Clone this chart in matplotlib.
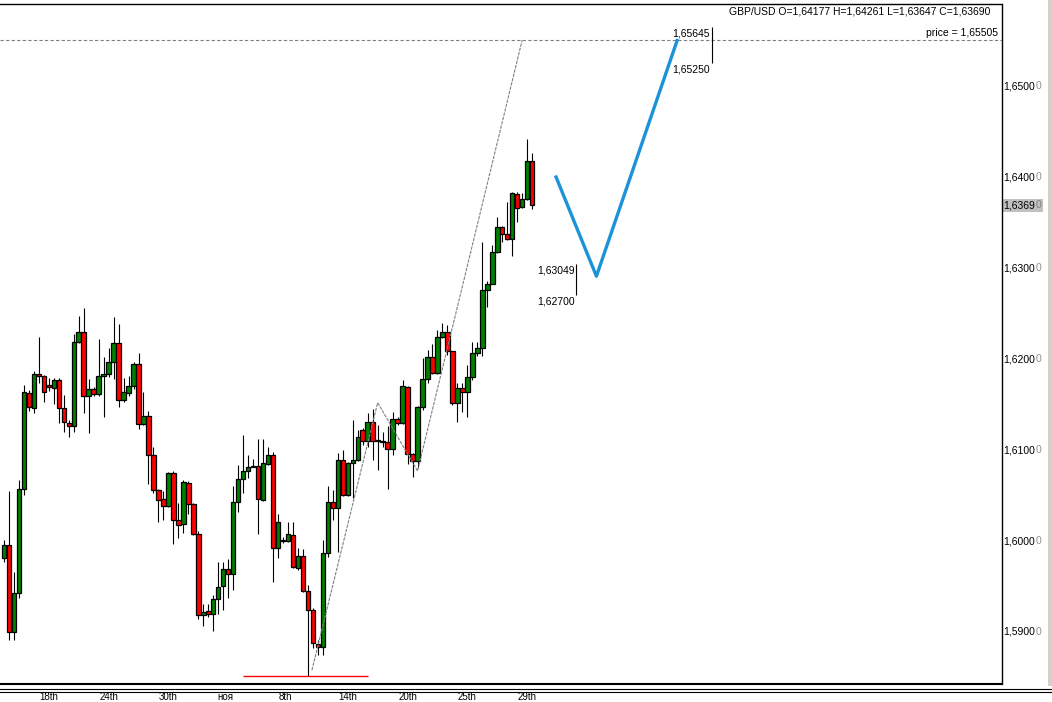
import numpy as np
import matplotlib
matplotlib.use("Agg")
import matplotlib.pyplot as plt
from matplotlib.patches import Rectangle
from matplotlib.lines import Line2D
import matplotlib.transforms as mtransforms

plt.rcParams['font.family'] = ['Liberation Sans', 'DejaVu Sans']

# GBP/USD bars (oldest first)
opens = [1.59813, 1.59956, 1.59000, 1.59429, 1.60571, 1.61626, 1.61462, 1.61835, 1.61813, 1.61714,
         1.61681, 1.61769, 1.61462, 1.61297, 1.61264, 1.62187, 1.62297, 1.61593, 1.61670, 1.61615,
         1.61813, 1.61835, 1.61967, 1.62176, 1.61549, 1.61626, 1.61703, 1.61945, 1.61286, 1.61374,
         1.60945, 1.60560, 1.60462, 1.60385, 1.60747, 1.60231, 1.60187, 1.60637, 1.60407, 1.60077,
         1.59187, 1.59231, 1.59198, 1.59363, 1.59505, 1.59692, 1.59637, 1.60429, 1.60681, 1.60769,
         1.60824, 1.60824, 1.60451, 1.60846, 1.60945, 1.59923, 1.60011, 1.60000, 1.60066, 1.59703,
         1.59835, 1.59451, 1.59242, 1.58868, 1.58835, 1.59868, 1.60429, 1.60363, 1.60890, 1.60506,
         1.60857, 1.60890, 1.61220, 1.61099, 1.61308, 1.61110, 1.61099, 1.61088, 1.61011, 1.61341,
         1.61297, 1.61692, 1.60956, 1.60879, 1.61473, 1.61780, 1.62022, 1.61846, 1.62242, 1.62297,
         1.62088, 1.61516, 1.61681, 1.61637, 1.61802, 1.62066, 1.62121, 1.62758, 1.62824, 1.63176,
         1.63451, 1.63374, 1.63319, 1.63813, 1.63670, 1.63758, 1.64177]
highs = [1.60011, 1.60549, 1.59659, 1.60670, 1.61714, 1.61659, 1.61868, 1.62242, 1.61824, 1.61791,
         1.61791, 1.61791, 1.61604, 1.61330, 1.62275, 1.62473, 1.62560, 1.61780, 1.61692, 1.62220,
         1.62022, 1.62121, 1.62462, 1.62385, 1.61791, 1.61813, 1.61967, 1.62066, 1.61637, 1.61429,
         1.61033, 1.60571, 1.60549, 1.60758, 1.60769, 1.60418, 1.60670, 1.60659, 1.60418, 1.60110,
         1.59308, 1.59308, 1.59407, 1.59769, 1.59769, 1.59802, 1.60604, 1.60835, 1.61165, 1.60945,
         1.60901, 1.61121, 1.61121, 1.61033, 1.60978, 1.60297, 1.60044, 1.60209, 1.60209, 1.59923,
         1.59912, 1.59516, 1.59264, 1.58912, 1.60011, 1.60604, 1.60560, 1.60967, 1.61000, 1.60868,
         1.61330, 1.61220, 1.61242, 1.61407, 1.61451, 1.61275, 1.61198, 1.61264, 1.61418, 1.61363,
         1.61769, 1.61703, 1.60967, 1.61484, 1.62011, 1.62099, 1.62165, 1.62319, 1.62396, 1.62374,
         1.62088, 1.61736, 1.61736, 1.61934, 1.62187, 1.62187, 1.63286, 1.62857, 1.63253, 1.63560,
         1.63462, 1.63725, 1.63835, 1.63835, 1.63824, 1.64418, 1.64261]
lows = [1.59769, 1.58912, 1.58912, 1.59374, 1.60506, 1.61429, 1.61407, 1.61736, 1.61527, 1.61648,
        1.61505, 1.61297, 1.61198, 1.61143, 1.61198, 1.62176, 1.61407, 1.61187, 1.61593, 1.61593,
        1.61363, 1.61802, 1.61780, 1.61473, 1.61527, 1.61593, 1.61670, 1.61231, 1.61275, 1.60626,
        1.60527, 1.60209, 1.60231, 1.60374, 1.59967, 1.60033, 1.60088, 1.60297, 1.60066, 1.59143,
        1.59066, 1.59165, 1.59011, 1.59198, 1.59242, 1.59374, 1.59462, 1.60319, 1.60527, 1.60692,
        1.60808, 1.60077, 1.60440, 1.60835, 1.59549, 1.59813, 1.59978, 1.59989, 1.59703, 1.59681,
        1.59440, 1.58516, 1.58824, 1.58747, 1.58747, 1.59824, 1.60231, 1.59879, 1.60495, 1.60495,
        1.60473, 1.60879, 1.61055, 1.61033, 1.60890, 1.60780, 1.61033, 1.60571, 1.60945, 1.61275,
        1.61286, 1.60846, 1.60703, 1.60802, 1.61440, 1.61736, 1.61835, 1.61835, 1.62231, 1.62044,
        1.61495, 1.61308, 1.61418, 1.61363, 1.61769, 1.62033, 1.62033, 1.62571, 1.62956, 1.63165,
        1.63286, 1.63308, 1.63132, 1.63505, 1.63659, 1.63747, 1.63647]
closes = [1.59956, 1.59000, 1.59429, 1.60571, 1.61637, 1.61473, 1.61835, 1.61813, 1.61637, 1.61692,
          1.61769, 1.61462, 1.61308, 1.61264, 1.62187, 1.62297, 1.61593, 1.61670, 1.61615, 1.61813,
          1.61835, 1.61967, 1.62176, 1.61549, 1.61637, 1.61703, 1.61945, 1.61286, 1.61374, 1.60945,
          1.60560, 1.60451, 1.60385, 1.60747, 1.60231, 1.60176, 1.60648, 1.60407, 1.60077, 1.59187,
          1.59220, 1.59198, 1.59363, 1.59495, 1.59692, 1.59637, 1.60429, 1.60681, 1.60769, 1.60813,
          1.60813, 1.60462, 1.60857, 1.60945, 1.59923, 1.60209, 1.60000, 1.60077, 1.59714, 1.59835,
          1.59451, 1.59242, 1.58879, 1.58835, 1.59868, 1.60429, 1.60363, 1.60890, 1.60506, 1.60857,
          1.60890, 1.61143, 1.61099, 1.61308, 1.61099, 1.61099, 1.61088, 1.61011, 1.61341, 1.61297,
          1.61703, 1.60956, 1.60879, 1.61473, 1.61780, 1.62022, 1.61846, 1.62242, 1.62297, 1.62088,
          1.61516, 1.61681, 1.61637, 1.61802, 1.62066, 1.62121, 1.62758, 1.62824, 1.63176, 1.63451,
          1.63374, 1.63319, 1.63824, 1.63659, 1.63758, 1.64176, 1.63690]

date_ticks = [9, 21, 33, 44.5, 56.5, 69, 81, 93, 105]
date_labels = ["18th", "24th", "30th", "ноя", "8th", "14th", "20th", "25th", "29th"]
price_ticks = [1.59, 1.60, 1.61, 1.62, 1.63, 1.64, 1.65]

# zigzag (bar index, price)
zz_x = [61.8, 75.0, 83.0, 104.0]
zz_y = [1.5858, 1.6152, 1.6077, 1.65505]
# hand drawn forecast
fc_x = [110.8, 118.9, 135.1]
fc_y = [1.6400, 1.6291, 1.6550]
support = 1.58516
support_x = (48, 73)
target_price = 1.65505
levels_low = (114.9, 1.63049, 1.62700)
levels_high = (142.0, 1.65645, 1.65250)
last_price = 1.63690

W, H = 1052, 702
fig = plt.figure(figsize=(W / 100, H / 100), dpi=100)
ax = fig.add_axes([0, (H - 683.5) / H, 1001.5 / W, (683.5 - 3.5) / H])
ax.set_xlim(-0.8, 200.2)
ax.set_ylim(1.58434, 1.65907)

o, h, l, c = map(np.array, (opens, highs, lows, closes))
idx = np.arange(len(o))
up = c >= o
ax.vlines(idx, l, h, color='black', lw=0.8, zorder=2)
ax.bar(idx, np.maximum(np.abs(c - o), 0.00003), bottom=np.minimum(o, c), width=0.9,
       color=np.where(up, '#008000', '#FF0000'), edgecolor='black', linewidth=0.9, zorder=3)

ax.axhline(target_price, color='#808080', lw=0.8, ls=(0, (3, 2)), zorder=1)
ax.plot(zz_x, zz_y, color='#808080', lw=0.8, ls=(0, (3, 1)), zorder=4)
ax.hlines(support, *support_x, color='red', lw=1.0, zorder=4)
ax.plot(fc_x, fc_y, color='#1C92D8', lw=2.4, zorder=5)

for xm, p1, p2 in (levels_low, levels_high):
    ax.vlines(xm, p2, p1, color='black', lw=0.8)
    for p in (p1, p2):
        ax.annotate(f"{p:.5f}".replace('.', ','), xy=(xm, p), xytext=(-1.5, -6.5),
                    textcoords='offset pixels', ha='right', va='center', fontsize=7.5)

# price scale on the right
for p in price_ticks:
    ax.annotate(f"{p:.4f}".replace('.', ','), xy=(1, p), xycoords=('axes fraction', 'data'),
                xytext=(2, 0), textcoords='offset pixels', ha='left', va='center', fontsize=7.5)
    ax.annotate("0", xy=(1, p), xycoords=('axes fraction', 'data'),
                xytext=(34, 0), textcoords='offset pixels', ha='left', va='center',
                fontsize=7.5, color='#909090')

tr = mtransforms.blended_transform_factory(fig.transFigure, ax.transData)
ax.add_patch(Rectangle((1002 / W, last_price - 0.00072), 41 / W, 0.00144, transform=tr,
                       facecolor='#C0C0C0', edgecolor='none', clip_on=False, zorder=1))
ax.annotate(f"{last_price:.4f}"[:6].replace('.', ','), xy=(1, last_price),
            xycoords=('axes fraction', 'data'), xytext=(2, 0), textcoords='offset pixels',
            ha='left', va='center', fontsize=7.5, zorder=2)
ax.annotate("0", xy=(1, last_price), xycoords=('axes fraction', 'data'), xytext=(34, 0),
            textcoords='offset pixels', ha='left', va='center', fontsize=7.5, color='#808080',
            zorder=2)

# date labels squeezed under the frame lines
ax.set_xticks([])
ax.set_yticks([])
trd = mtransforms.blended_transform_factory(ax.transData, fig.transFigure)
for xt, lab in zip(date_ticks, date_labels):
    ax.text(xt, 1 - 699.5 / H, lab, transform=trd, ha='center', va='baseline',
            fontsize=7, clip_on=False)

ax.spines['left'].set_visible(False)
for s in ('top', 'right', 'bottom'):
    ax.spines[s].set_linewidth(1.0)
ax.spines['bottom'].set_linewidth(1.5)

fig.text(990 / W, 1 - 12 / H, "GBP/USD O=1,64177 H=1,64261 L=1,63647 C=1,63690",
         ha='right', va='center', fontsize=7.5)
ax.annotate(f"price = {target_price:.5f}".replace('.', ','), xy=(1, target_price),
            xycoords=('axes fraction', 'data'), xytext=(-4, 7), textcoords='offset pixels',
            ha='right', va='center', fontsize=7.5)

for yy in (688.5, 691.5):
    fig.add_artist(Line2D([0, 1], [1 - yy / H, 1 - yy / H], color='black', lw=0.8))
fig.add_artist(Rectangle((1048 / W, 1 - 686 / H), 4 / W, 686 / H, facecolor='#D4D0C8',
                         edgecolor='none'))

fig.savefig('out.png', dpi=100)
